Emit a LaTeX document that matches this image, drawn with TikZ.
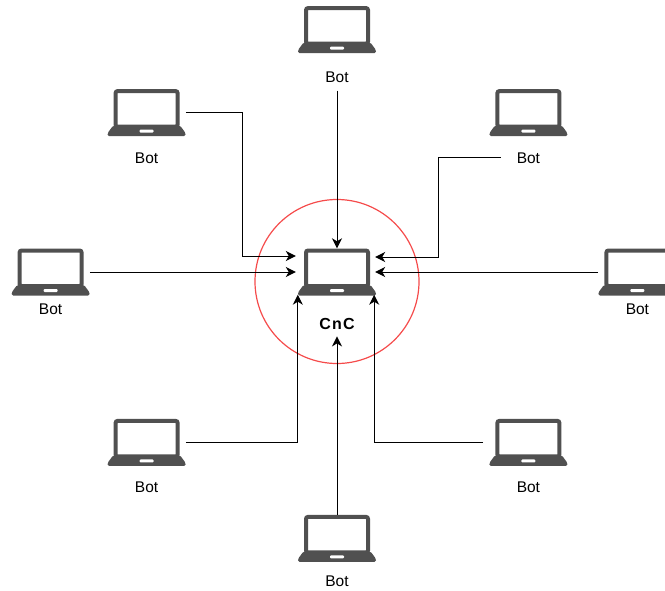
\documentclass[tikz,border=0pt]{standalone}
\usepackage{fontspec}
\setmainfont{Liberation Sans}
\usetikzlibrary{arrows.meta, positioning}
\definecolor{laptopgrey}{HTML}{505050}
\definecolor{ringred}{HTML}{F54B4B}

\begin{document}
\begin{tikzpicture}[
    x=1pt,
    y=-1pt,
    laptop/.style={
        minimum width=78pt,
        minimum height=47pt,
        inner sep=0pt,
        path picture={
            \begin{scope}[shift={(path picture bounding box.center)}]
                \draw[laptopgrey, line width=4pt, rounded corners=2pt]
                    (-31,-21.5) rectangle (31,14);
                \fill[laptopgrey, rounded corners=1.5pt]
                    (-33.5,13) -- (33.5,13) -- (39,20.5) -- (39,23.5)
                    -- (-39,23.5) -- (-39,20.5) -- cycle;
                \fill[white, rounded corners=1pt] (-7,17) rectangle (7,20);
            \end{scope}
        }
    },
    botlabel/.style={font=\fontsize{15.5pt}{18pt}\selectfont, inner sep=0pt},
    arrow/.style={-{Stealth[length=10pt, width=10pt, inset=3pt]}, line width=1pt, black}
]
\useasboundingbox (0,0) rectangle (665,590);

% ------------------------
% CnC (middle)
% ------------------------
\node[laptop] (cnc) at (337,272) {};
\node[font=\fontsize{16pt}{18pt}\selectfont\bfseries\addfontfeatures{LetterSpace=8}, inner sep=0pt, below=22pt of cnc] (cnclabel) {CnC};
\node[draw=ringred, line width=1.2pt, circle, minimum size=164pt, inner sep=0pt] (ring) at (337,281.5) {};

% ------------------------
% Bots (around)
% ------------------------
\node[laptop] (bottop) [above=195pt of cnc] {};
\node[laptop] (bottl) [above left=112pt and 112pt of cnc] {};
\node[laptop] (bottr) [above right=112pt and 113pt of cnc] {};
\node[laptop] (botl) [left=208pt of cnc] {};
\node[laptop] (botr) [right=222pt of cnc] {};
\node[laptop] (botbl) [below left=123pt and 112pt of cnc] {};
\node[laptop] (botbr) [below right=123pt and 113pt of cnc] {};
\node[laptop] (botbottom) [below=219pt of cnc] {};

\node[botlabel] (lbltop) [below=18pt of bottop] {Bot};
\node[botlabel] (lbltl) [below=16pt of bottl] {Bot};
\node[botlabel] (lbltr) [below=16pt of bottr] {Bot};
\node[botlabel] (lbll) [below=8pt of botl] {Bot};
\node[botlabel] (lblr) [below=8pt of botr] {Bot};
\node[botlabel] (lblbl) [below=15.5pt of botbl] {Bot};
\node[botlabel] (lblbr) [below=15.5pt of botbr] {Bot};
\node[botlabel] (lblbottom) [below=14pt of botbottom] {Bot};

% ------------------------
% Arrows
% ------------------------
\draw[arrow] ([yshift=-8pt]lbltop.south) -- (cnc.north);
\draw[arrow] (bottl.east) -| ([xshift=-55pt, yshift=16pt]cnc.west) -- ([xshift=-2pt, yshift=16pt]cnc.west);
\draw[arrow] ([xshift=-16pt]lbltr.west) -| ([xshift=62pt, yshift=15pt]cnc.east) -- ([xshift=-1pt, yshift=15pt]cnc.east);
\draw[arrow] (botl.east) -- ([xshift=-2pt]cnc.west);
\draw[arrow] (botr.west) -- ([xshift=-1pt]cnc.east);
\draw[arrow] (botbl.east) -| ([yshift=1pt]cnc.south west);
\draw[arrow] ([xshift=-6pt]botbr.west) -| ([xshift=-2pt, yshift=1pt]cnc.south east);
\draw[arrow] (botbottom.north) -- ([yshift=-7pt]cnclabel.south);
\end{tikzpicture}
\end{document}
